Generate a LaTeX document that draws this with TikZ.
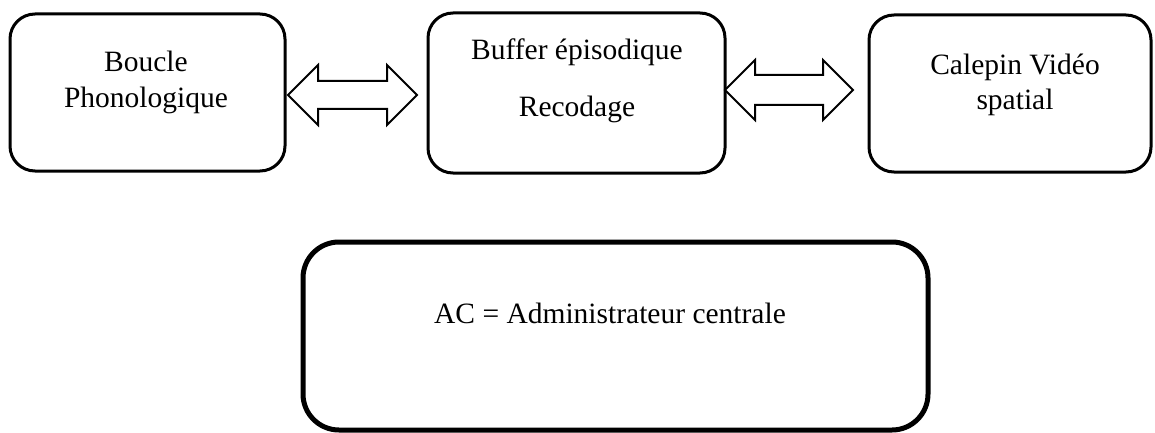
\documentclass[tikz,border=0pt]{standalone}
\usepackage{fontspec}
\setmainfont{Liberation Serif}
\begin{document}
\begin{tikzpicture}[x=1pt,y=-1pt,
  box/.style={draw=black,line width=3pt,rounded corners=25pt,fill=none,inner sep=0pt},
  bigbox/.style={draw=black,line width=5pt,rounded corners=36pt,inner sep=0pt},
  lbl/.style={anchor=base,inner sep=0pt,font=\fontsize{29.5}{36}\selectfont},
  barrow/.style={draw=black,line width=2pt,fill=white,line join=miter}]
\useasboundingbox (0,0) rectangle (1155,433);
\node[box,minimum width=275pt,minimum height=157pt] (b1) at (147.5,92.5) {};
\node[box,minimum width=297pt,minimum height=160pt] (b2) at (576.5,93) {};
\node[box,minimum width=282pt,minimum height=157pt] (b3) at (1010,93.5) {};
\node[bigbox,minimum width=625pt,minimum height=188pt] (b4) at (615.5,336) {};
\node[lbl] (t1a) at (146,72) {Boucle};
\node[lbl] (t1b) at (146,108) {Phonologique};
\node[lbl] (t2a) at (577,60) {Buffer épisodique};
\node[lbl] (t2b) at (577,117) {Recodage};
\node[lbl] (t3a) at (1015,75) {Calepin Vidéo};
\node[lbl] (t3b) at (1015,110) {spatial};
\node[lbl] (t4) at (610,323) {AC = Administrateur centrale};
% double block arrows
\draw[barrow] (288,95) -- (318,65) -- (318,81) -- (387,81) -- (387,65) -- (417,95)
  -- (387,125) -- (387,109) -- (318,109) -- (318,125) -- cycle;
\draw[barrow] (725,90) -- (755,60) -- (755,75) -- (823,75) -- (823,60) -- (853,90)
  -- (823,120) -- (823,105) -- (755,105) -- (755,120) -- cycle;
\end{tikzpicture}
\end{document}
